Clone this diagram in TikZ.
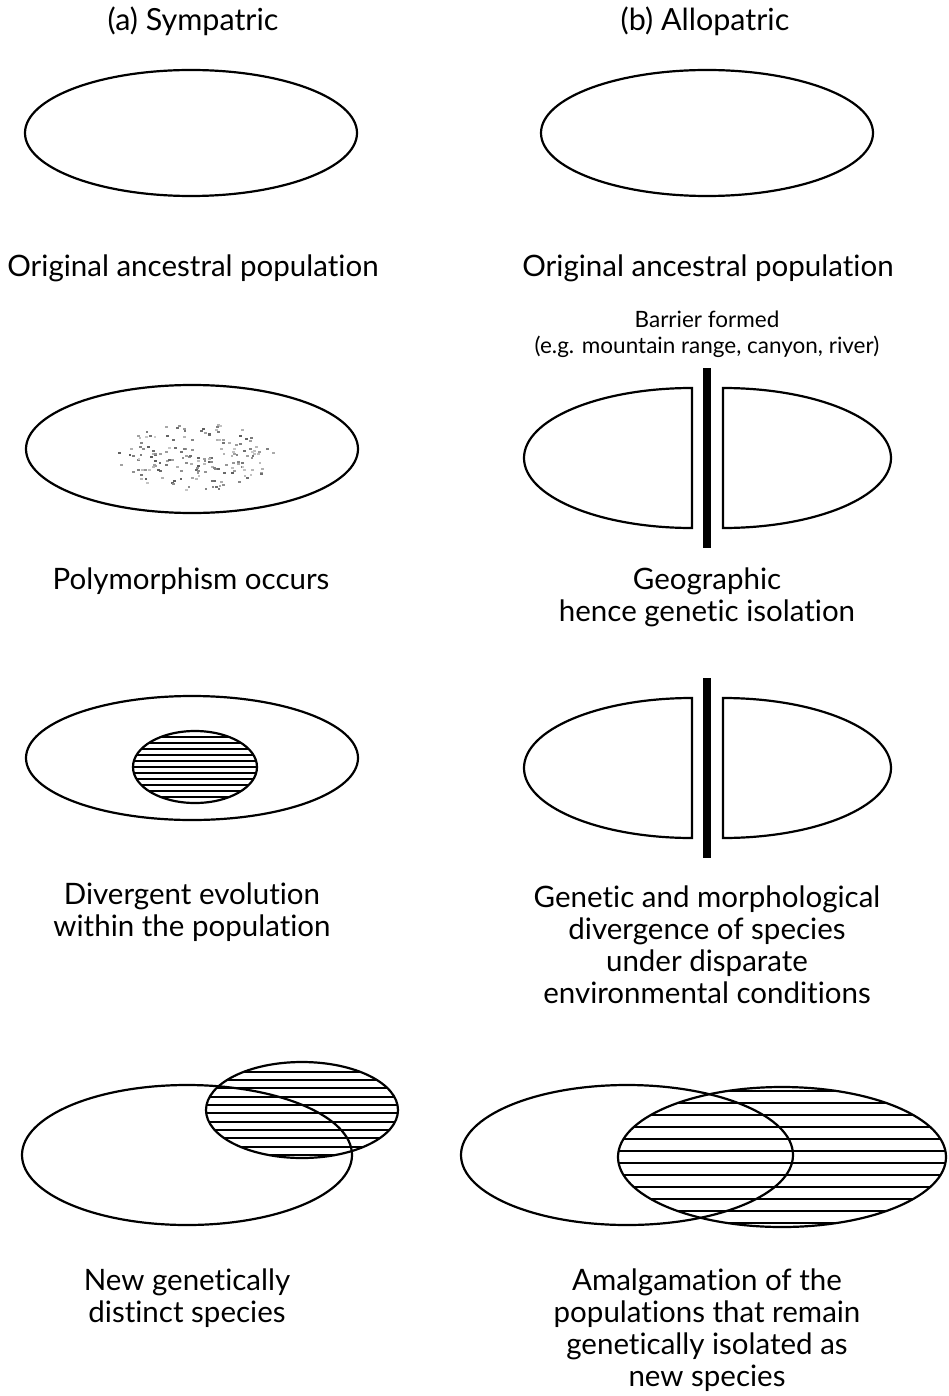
\documentclass[tikz,border=0pt]{standalone}
\usepackage{fontspec}
\setmainfont{Lato}[Ligatures={NoCommon}]
\begin{document}
\begin{tikzpicture}[x=1pt,y=-1pt,
  outl/.style={line width=2.2pt},
  stripe/.style={line width=1.8pt},
  lbl/.style={font=\fontsize{29.5}{32}\selectfont, align=center, inner sep=0pt, anchor=center},
  ttl/.style={font=\fontsize{30.5}{32}\selectfont, align=center, inner sep=0pt, anchor=center},
  small/.style={font=\fontsize{22.5}{26}\selectfont, align=center, inner sep=0pt, anchor=center}]
\useasboundingbox (0,0) rectangle (948,1396);
\fill[white] (0,0) rectangle (948,1396);

% titles
\node[ttl] (ta) at (193,21) {(a) Sympatric};
\node[ttl] (tb) at (705,21) {(b) Allopatric};

% ---------- left column ----------
\draw[outl] (191,133) ellipse [x radius=166, y radius=63];
\node[lbl] (l1) at (193,268) {Original ancestral population};

\draw[outl] (192,449) ellipse [x radius=166, y radius=64];
\pgfmathsetseed{42}
\foreach \i in {1,...,170}{
  \pgfmathsetmacro\ang{360*rnd}
  \pgfmathsetmacro\rr{sqrt(rnd)}
  \pgfmathtruncatemacro\gg{20+45*rnd}
  \fill[black!\gg] ({195+78*\rr*cos(\ang)},{456+34*\rr*sin(\ang)}) rectangle ++(2.8,2);
}
\node[lbl] (l2) at (191,581) {Polymorphism occurs};

\draw[outl] (192,758) ellipse [x radius=166, y radius=62];
\begin{scope}
  \clip (195,767) ellipse [x radius=62, y radius=36];
  \foreach \k in {1,...,11}{\draw[stripe] (130,731+6*\k) -- (260,731+6*\k);}
\end{scope}
\draw[outl] (195,767) ellipse [x radius=62, y radius=36];
\node[lbl] (l3) at (192,912) {Divergent evolution\\within the population};

\begin{scope}
  \clip (302,1110) ellipse [x radius=96, y radius=48];
  \foreach \k in {1,...,11}{\draw[stripe] (200,1063.3+8.33*\k) -- (400,1063.3+8.33*\k);}
\end{scope}
\draw[outl] (302,1110) ellipse [x radius=96, y radius=48];
\draw[outl] (187,1155) ellipse [x radius=165, y radius=70];
\node[lbl] (l4) at (187,1298) {New genetically\\distinct species};

% ---------- right column ----------
\draw[outl] (707,133) ellipse [x radius=166, y radius=63];
\node[lbl] (r1) at (708,268) {Original ancestral population};

\node[small] (bar) at (707,334) {Barrier formed\\(e.g. mountain range, canyon, river)};
\draw[outl] (692,388) arc[start angle=-90, end angle=-270, x radius=168, y radius=70] -- cycle;
\draw[outl] (723,388) arc[start angle=-90, end angle=90, x radius=168, y radius=70] -- cycle;
\fill (703,368) rectangle (711,548);
\node[lbl] (r2) at (707,597) {Geographic\\hence genetic isolation};

\draw[outl] (692,698) arc[start angle=-90, end angle=-270, x radius=168, y radius=70] -- cycle;
\draw[outl] (723,698) arc[start angle=-90, end angle=90, x radius=168, y radius=70] -- cycle;
\fill (703,678) rectangle (711,858);
\node[lbl] (r3) at (707,945) {Genetic and morphological\\divergence of species\\under disparate\\environmental conditions};

\begin{scope}
  \clip (782,1157) ellipse [x radius=164, y radius=70];
  \foreach \k in {0,...,11}{\draw[stripe] (610,1091+12*\k) -- (948,1091+12*\k);}
\end{scope}
\draw[outl] (782,1157) ellipse [x radius=164, y radius=70];
\draw[outl] (627,1155) ellipse [x radius=166, y radius=70];
\node[lbl] (r4) at (707,1330) {Amalgamation of the\\populations that remain\\genetically isolated as\\new species};
\end{tikzpicture}
\end{document}
